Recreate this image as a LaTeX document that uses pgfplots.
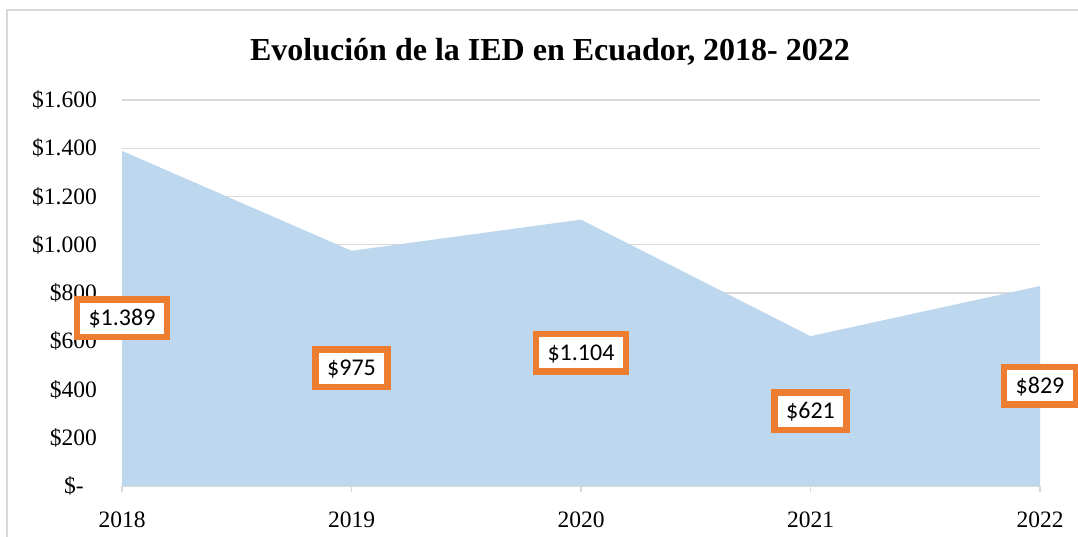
\documentclass[border=0pt]{standalone}
\usepackage{fontspec}
\setmainfont{Liberation Serif}
\newfontfamily\calibri{Carlito}
\usepackage{pgfplots}
\usepackage{pgfplotstable}
\pgfplotsset{compat=1.18}
\definecolor{areablue}{RGB}{189,215,238}
\definecolor{lblorange}{RGB}{237,125,49}
\definecolor{gridgray}{RGB}{217,217,217}
\pgfplotstableread{
x v
0 1389
1 975
2 1104
3 621
4 829
}\iedtable
\begin{document}
\begin{tikzpicture}[x=1bp,y=1bp]
\useasboundingbox (0,0) rectangle (1078,537);
\fill[white] (0,0) rectangle (1078,537);
\draw[gridgray, line width=2bp] (7,-20) -- (7,527) -- (1100,527);
\node[font=\bfseries\fontsize{32bp}{38bp}\selectfont, anchor=base] at (550,476) {Evolución de la IED en Ecuador, 2018- 2022};
\begin{axis}[
  at={(122bp,51bp)}, anchor=south west,
  scale only axis, width=918bp, height=386bp,
  xmin=0, xmax=4, ymin=0, ymax=1600,
  clip=false,
  axis lines*=left,
  y axis line style={draw=none},
  x axis line style={gridgray, line width=1.5bp, -},
  xtick={0,1,2,3,4},
  xticklabels={2018,2019,2020,2021,2022},
  ytick={0,200,...,1600},
  yticklabels={\$-\hspace*{13bp},\$200,\$400,\$600,\$800,\$1.000,\$1.200,\$1.400,\$1.600},
  ymajorgrids,
  grid style={gridgray, line width=1.3bp},
  ytick style={draw=none},
  xtick style={gridgray, line width=1.5bp},
  tick align=outside,
  major tick length=6bp,
  tick label style={font=\fontsize{23.5bp}{28bp}\selectfont},
  yticklabel style={anchor=east, inner sep=0pt, xshift=-19bp},
  xticklabel style={anchor=base, inner sep=0pt, yshift=-36bp},
]
\addplot[fill=areablue, draw=none] table[x=x, y=v] {\iedtable} \closedcycle;
\addplot[draw=none, mark=none,
  point meta=\thisrow{v},
  nodes near coords={\smash{\raisebox{-7.5bp}{\$\pgfmathprintnumber[fixed, precision=0, 1000 sep={.}, assume math mode=true]{\pgfplotspointmeta}}}},
  every node near coord/.append style={anchor=center, draw=lblorange, line width=6.5bp, fill=white,
    font=\calibri\fontsize{24bp}{28bp}\selectfont, text=black,
    inner xsep=11.5bp, inner ysep=0pt, minimum height=37.5bp, text height=0pt, text depth=0pt},
] table[x=x, y expr=\thisrow{v}/2] {\iedtable};
\end{axis}
\end{tikzpicture}
\end{document}
